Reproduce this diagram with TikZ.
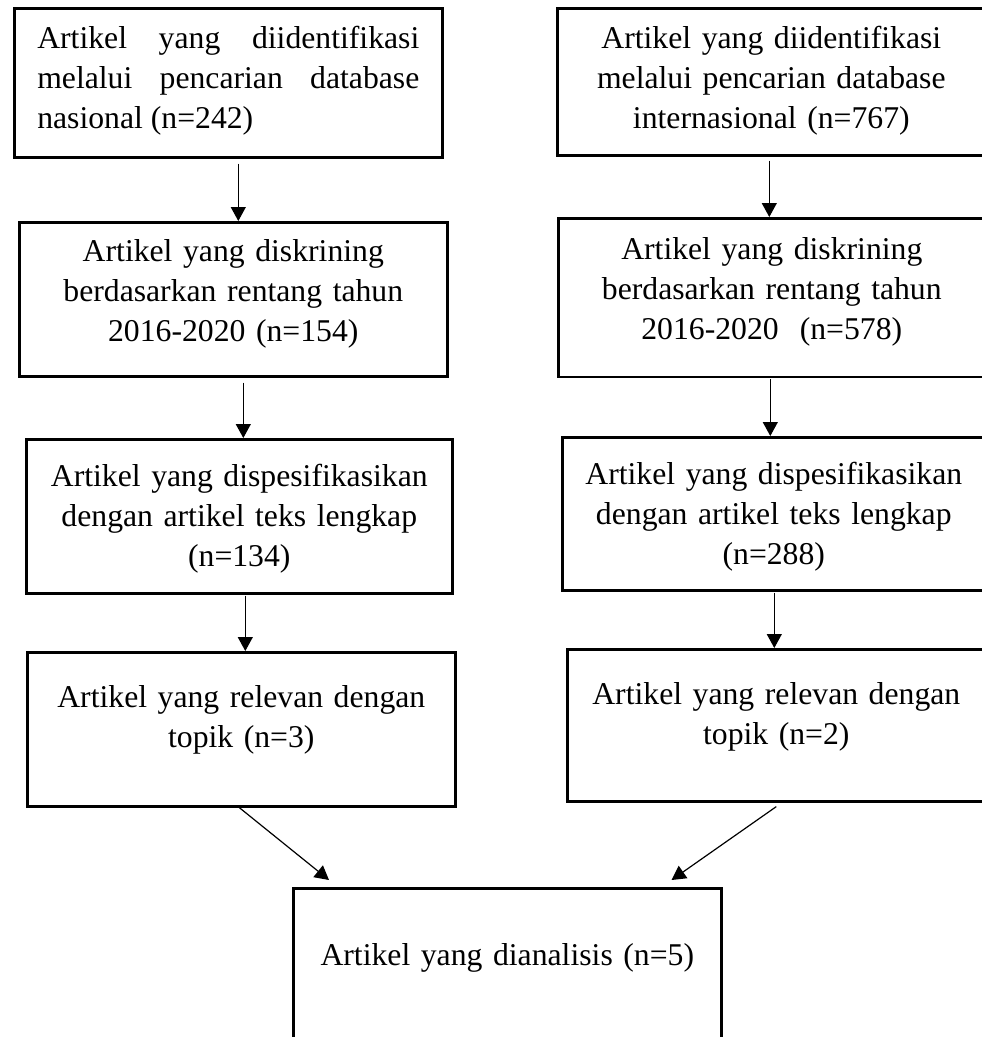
\documentclass[tikz,border=0pt]{standalone}
\usepackage{fontspec}
\setmainfont{Liberation Serif}
\usetikzlibrary{arrows.meta}

\begin{document}
\begin{tikzpicture}[x=1pt,y=-1pt,
        every node/.style={font=\fontsize{31.7}{40}\selectfont},
        box/.style={draw,line width=2.6pt,anchor=north west,inner sep=0pt,
            minimum width=428pt,text width=400pt,align=center},
        arrow/.style={line width=1.2pt,-{Triangle[length=14pt,width=15pt]}}
        ]

        \useasboundingbox (0,0) rectangle (982,1037);
        \clip (0,0) rectangle (982,1037);

        % the national search
        \node[box,text width=382pt,align=justify,text height=40pt,text depth=109pt] (nat1) at (13,7)
            {Artikel\hfill yang\hfill diidentifikasi\\ melalui\hfill pencarian\hfill database\\ nasional (n=242)};
        \node[box,text height=39pt,text depth=115pt] (nat2) at (18,221)
            {Artikel yang diskrining\\ berdasarkan rentang tahun\\ 2016-2020 (n=154)};
        \node[box,minimum width=426pt,text height=47pt,text depth=107pt] (nat3) at (25,438)
            {Artikel yang dispesifikasikan\\ dengan artikel teks lengkap\\ (n=134)};
        \node[box,text height=55pt,text depth=99pt] (nat4) at (26,651)
            {Artikel yang relevan dengan\\ topik (n=3)};

        % the international search
        \node[box,text height=40pt,text depth=107pt] (int1) at (556,7)
            {Artikel yang diidentifikasi\\ melalui pencarian database\\ internasional (n=767)};
        \node[box,minimum width=427pt,text height=41pt,text depth=117.5pt] (int2) at (557,217)
            {Artikel yang diskrining\\ berdasarkan rentang tahun\\ 2016-2020~~(n=578)};
        \node[box,minimum width=423pt,text height=47pt,text depth=106pt] (int3) at (561,436)
            {Artikel yang dispesifikasikan\\ dengan artikel teks lengkap\\ (n=288)};
        \node[box,minimum width=418pt,text height=55pt,text depth=97pt] (int4) at (566,648)
            {Artikel yang relevan dengan\\ topik (n=2)};

        % the analysed articles
        \node[box,text height=77pt,text depth=200pt] (ana) at (292,887)
            {Artikel yang dianalisis (n=5)};

        % the arrows
        \draw[arrow] ([xshift=10pt,yshift=-5pt]nat1.south) -- ([xshift=5pt]nat2.north);
        \draw[arrow] ([xshift=10pt,yshift=-5pt]nat2.south) -- ([xshift=4pt]nat3.north);
        \draw[arrow] ([xshift=6pt,yshift=-1pt]nat3.south) -- ([xshift=4pt]nat4.north);
        \draw[arrow] ([xshift=-2pt,yshift=-4pt]int1.south) -- ([xshift=-2.5pt]int2.north);
        \draw[arrow] ([xshift=-1.5pt,yshift=-1pt]int2.south) -- ([xshift=-3.5pt]int3.north);
        \draw[arrow] ([xshift=0.5pt,yshift=-1pt]int3.south) -- ([xshift=-2pt]int4.north);
        \draw[arrow] ([xshift=-2pt]nat4.south) -- ([xshift=37pt,yshift=7pt]ana.north west);
        \draw[arrow] ([yshift=-4pt]int4.south) -- ([xshift=-51pt,yshift=7pt]ana.north east);
\end{tikzpicture}
\end{document}
